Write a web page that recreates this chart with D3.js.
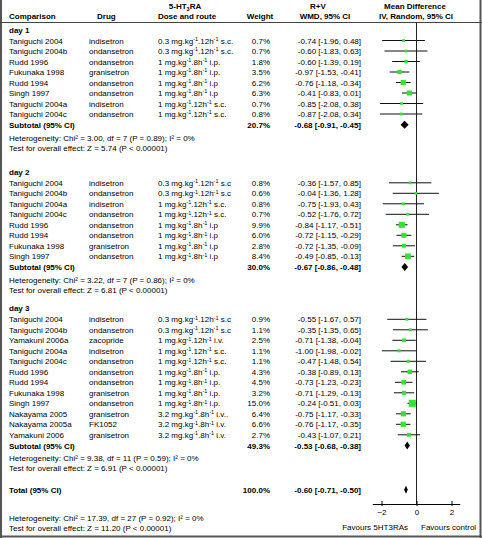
<!DOCTYPE html>
<html><head><meta charset="utf-8">
<script src="https://cdn.jsdelivr.net/npm/d3@7"></script>
<style>
html,body{margin:0;padding:0;background:#fff;}
text{font-family:"Liberation Sans",Arial,sans-serif;font-size:8px;fill:#000;white-space:pre;}
.b{font-weight:bold;}
</style></head><body>
<script>
// ---------- data ----------
const days = ["day 1", "day 2", "day 3"];
const studyDay = [0,0,0,0,0,0,0,0, 1,1,1,1,1,1,1,1, 2,2,2,2,2,2,2,2,2,2,2,2];
const studyNames = [
  "Taniguchi 2004","Taniguchi 2004b","Rudd 1996","Fukunaka 1998","Rudd 1994","Singh 1997","Taniguchi 2004a","Taniguchi 2004c",
  "Taniguchi 2004","Taniguchi 2004b","Taniguchi 2004a","Taniguchi 2004c","Rudd 1996","Rudd 1994","Fukunaka 1998","Singh 1997",
  "Taniguchi 2004","Taniguchi 2004b","Yamakuni 2006a","Taniguchi 2004a","Taniguchi 2004c","Rudd 1996","Rudd 1994","Fukunaka 1998","Singh 1997","Nakayama 2005","Nakayama 2005a","Yamakuni 2006"];
const studyDrugs = [
  "indisetron","ondansetron","ondansetron","granisetron","ondansetron","ondansetron","indisetron","ondansetron",
  "indisetron","ondansetron","indisetron","ondansetron","ondansetron","ondansetron","granisetron","ondansetron",
  "indisetron","ondansetron","zacopride","indisetron","ondansetron","ondansetron","ondansetron","granisetron","ondansetron","granisetron","FK1052","granisetron"];
const studyDoses = [
  "0.3 mg.kg^-1.12h^-1 s.c.","0.3 mg.kg^-1.12h^-1 s.c.","1 mg.kg^-1.8h^-1 i.p.","1 mg.kg^-1.8h^-1 i.p.","1 mg.kg^-1.8h^-1 i.p","1 mg.kg^-1.8h^-1 i.p","1 mg.kg^-1.12h^-1 s.c.","1 mg.kg^-1.12h^-1 s.c.",
  "0.3 mg.kg^-1.12h^-1 s.c","0.3 mg.kg^-1.12h^-1 s.c","1 mg.kg^-1.12h^-1 s.c.","1 mg.kg^-1.12h^-1 s.c.","1 mg.kg^-1.8h^-1 i.p","1 mg.kg^-1.8h^-1 i.p","1 mg.kg^-1.8h^-1 i.p","1 mg.kg^-1.8h^-1 i.p",
  "0.3 mg.kg^-1.12h^-1 s.c","0.3 mg.kg^-1.12h^-1 s.c","1 mg.kg^-1.12h^-1 i.v.","1 mg.kg^-1.12h^-1 s.c.","1 mg.kg^-1.12h^-1 s.c.","1 mg.kg^-1.8h^-1 i.p.","1 mg.kg^-1.8h^-1 i.p.","1 mg.kg^-1.8h^-1 i.p.","1 mg.kg^-1.8h^-1 i.p.","3.2 mg.kg^-1.8h^-1 i.v..","3.2 mg.kg^-1.8h^-1 i.v.","3.2 mg.kg^-1.8h^-1 i.v."];
const studyWeights = [0.7,0.7,1.8,3.5,6.2,6.3,0.7,0.8, 0.8,0.6,0.8,0.7,9.9,6.0,2.8,8.4, 0.9,1.1,2.5,1.1,1.1,4.3,4.5,3.2,15.0,6.4,6.6,2.7];
const studyMD = [-0.74,-0.60,-0.60,-0.97,-0.76,-0.41,-0.85,-0.87, -0.36,-0.04,-0.75,-0.52,-0.84,-0.72,-0.72,-0.49, -0.55,-0.35,-0.71,-1.00,-0.47,-0.38,-0.73,-0.71,-0.24,-0.75,-0.76,-0.43];
const studyLo = [-1.96,-1.83,-1.39,-1.53,-1.18,-0.83,-2.08,-2.08, -1.57,-1.36,-1.93,-1.76,-1.17,-1.15,-1.35,-0.85, -1.67,-1.35,-1.38,-1.98,-1.48,-0.89,-1.23,-1.29,-0.51,-1.17,-1.17,-1.07];
const studyHi = [0.48,0.63,0.19,-0.41,-0.34,0.01,0.38,0.34, 0.85,1.28,0.43,0.72,-0.51,-0.29,-0.09,-0.13, 0.57,0.65,-0.04,-0.02,0.54,0.13,-0.23,-0.13,0.03,-0.33,-0.35,0.21];

const subWeights = [20.7, 30.0, 49.3];
const subMD = [-0.68, -0.67, -0.53];
const subLo = [-0.91, -0.86, -0.68];
const subHi = [-0.45, -0.48, -0.38];
const subHet = ["Heterogeneity: Chi² = 3.00, df = 7 (P = 0.89); I² = 0%",
                "Heterogeneity: Chi² = 3.22, df = 7 (P = 0.86); I² = 0%",
                "Heterogeneity: Chi² = 9.38, df = 11 (P = 0.59); I² = 0%"];
const subTest = ["Test for overall effect: Z = 5.74 (P < 0.00001)",
                 "Test for overall effect: Z = 6.81 (P < 0.00001)",
                 "Test for overall effect: Z = 6.91 (P < 0.00001)"];
const totalWeight = 100.0, totalMD = -0.60, totalLo = -0.71, totalHi = -0.50;
const totalHet = "Heterogeneity: Chi² = 17.39, df = 27 (P = 0.92); I² = 0%";
const totalTest = "Test for overall effect: Z = 11.20 (P < 0.00001)";
const axisTicks = [-2, 0, 2];
const favourLeft = "Favours 5HT3RAs", favourRight = "Favours control";

// ---------- layout ----------
const W = 482, H = 538;
const svg = d3.select("body").append("svg").attr("width", W).attr("height", H);
const x = d3.scaleLinear().domain([-2, 2]).range([381.5, 451.5]);
const sq = d3.scaleSqrt().domain([0, 15]).range([0, 5.6]);
const colName = 9, colDrug = 89, colDose = 158, colWeight = 270, colWMD = 361;
const step = 10.5, base = 3;
const dayY = [29.5, 171.8, 308.3];
const fmt = v => v.toFixed(2);
const ciText = (m, l, h) => `${fmt(m)} [${fmt(l)}, ${fmt(h)}]`;

// border
const g = svg.append("g");
g.append("line").attr("x1", 1).attr("x2", 1).attr("y1", 0).attr("y2", H).attr("stroke", "#555").attr("stroke-width", 2);
g.append("line").attr("x1", W - 1.5).attr("x2", W - 1.5).attr("y1", 0).attr("y2", H).attr("stroke", "#555").attr("stroke-width", 2);
g.append("line").attr("x1", 0).attr("x2", W).attr("y1", H - 1.5).attr("y2", H - 1.5).attr("stroke", "#555").attr("stroke-width", 2);

function txt(xp, yc, s, anchor, cls) {
  return g.append("text").attr("x", xp).attr("y", yc + base).attr("text-anchor", anchor || "start").attr("class", cls || null).text(s);
}
function doseText(xp, yc, s) {
  const t = g.append("text").attr("x", xp).attr("y", yc + base);
  const parts = s.split("^-1");
  parts.forEach((p, i) => {
    t.append("tspan").attr("dy", i === 0 ? 0 : 2.8).text(p);
    if (i < parts.length - 1) t.append("tspan").attr("dy", -2.8).style("font-size", "5.5px").text("-1");
  });
}

// header
const h1 = 6, h2 = 16;
const ht = g.append("text").attr("x", 185).attr("y", h1 + base).attr("text-anchor", "middle").attr("class", "b");
ht.append("tspan").text("5-HT");
ht.append("tspan").attr("dy", 2).style("font-size", "5.5px").text("3");
ht.append("tspan").attr("dy", -2).text("RA");
txt(318, h1, "R+V", "middle", "b");
txt(415, h1, "Mean Difference", "middle", "b");
txt(colName, h2, "Comparison", "start", "b");
txt(97, h2, "Drug", "start", "b");
txt(187, h2, "Dose and route", "middle", "b");
txt(260, h2, "Weight", "middle", "b");
txt(325, h2, "WMD, 95% CI", "middle", "b");
txt(416, h2, "IV, Random, 95% CI", "middle", "b");
g.append("line").attr("x1", 0).attr("x2", W).attr("y1", 22.5).attr("y2", 22.5).attr("stroke", "#444").attr("stroke-width", 1);

const axisY = 504;
// zero line
g.append("line").attr("x1", x(0)).attr("x2", x(0)).attr("y1", 22.5).attr("y2", axisY).attr("stroke", "#222").attr("stroke-width", 1);

const green = "#2ee62e";
function diamond(yc, m, l, h) {
  const hh = 4;
  g.append("path")
    .attr("d", `M${x(l)},${yc} L${x(m)},${yc - hh} L${x(h)},${yc} L${x(m)},${yc + hh} Z`)
    .attr("fill", "#000");
}

let lastY = 0;
days.forEach((d, di) => {
  const y0 = dayY[di];
  txt(colName, y0, d, "start", "b");
  const idx = d3.range(studyNames.length).filter(i => studyDay[i] === di);
  idx.forEach((i, k) => {
    const yc = y0 + 11 + k * step;
    txt(colName, yc, studyNames[i]);
    txt(colDrug, yc, studyDrugs[i]);
    doseText(colDose, yc, studyDoses[i]);
    txt(colWeight, yc, studyWeights[i].toFixed(1) + "%", "end");
    txt(colWMD, yc, ciText(studyMD[i], studyLo[i], studyHi[i]), "end");
    g.append("line").attr("x1", x(studyLo[i])).attr("x2", x(studyHi[i])).attr("y1", yc).attr("y2", yc)
      .attr("stroke", "#111").attr("stroke-width", 1);
    const s = 1.5 + sq(studyWeights[i]);
    g.append("rect").attr("x", x(studyMD[i]) - s / 2).attr("y", yc - s / 2).attr("width", s).attr("height", s).attr("fill", green);
  });
  const ys = y0 + 11 + (idx.length - 1) * step + 10.8;
  txt(colName, ys, "Subtotal (95% CI)", "start", "b");
  txt(colWeight, ys, subWeights[di].toFixed(1) + "%", "end", "b");
  txt(colWMD, ys, ciText(subMD[di], subLo[di], subHi[di]), "end", "b");
  diamond(ys, subMD[di], subLo[di], subHi[di]);
  txt(colName, ys + 12.8, subHet[di]);
  txt(colName, ys + 22.8, subTest[di]);
  lastY = ys + 22.8;
});

const yt = lastY + 21.4;
txt(colName, yt, "Total (95% CI)", "start", "b");
txt(colWeight, yt, totalWeight.toFixed(1) + "%", "end", "b");
txt(colWMD, yt, ciText(totalMD, totalLo, totalHi), "end", "b");
diamond(yt, totalMD, totalLo, totalHi);
txt(colName, yt + 28, totalHet);
txt(colName, yt + 38, totalTest);

// axis
const ax = g.append("g").attr("transform", `translate(0,${axisY})`)
  .call(d3.axisBottom(x).tickValues(axisTicks).tickFormat(d3.format("d")).tickSizeInner(-3).tickSizeOuter(0).tickPadding(5));
ax.select(".domain").remove();
ax.selectAll(".tick line").attr("y1", 2).attr("stroke", "#000");
ax.selectAll(".tick text").style("font-family", '"Liberation Sans",Arial,sans-serif').style("font-size", "8px");
ax.append("line").attr("x1", x(-2.5)).attr("x2", x(2.5)).attr("y1", 0.5).attr("y2", 0.5).attr("stroke", "#000");
txt(408, 527, favourLeft, "end");
txt(421, 527, favourRight, "start");
</script>
</body></html>
